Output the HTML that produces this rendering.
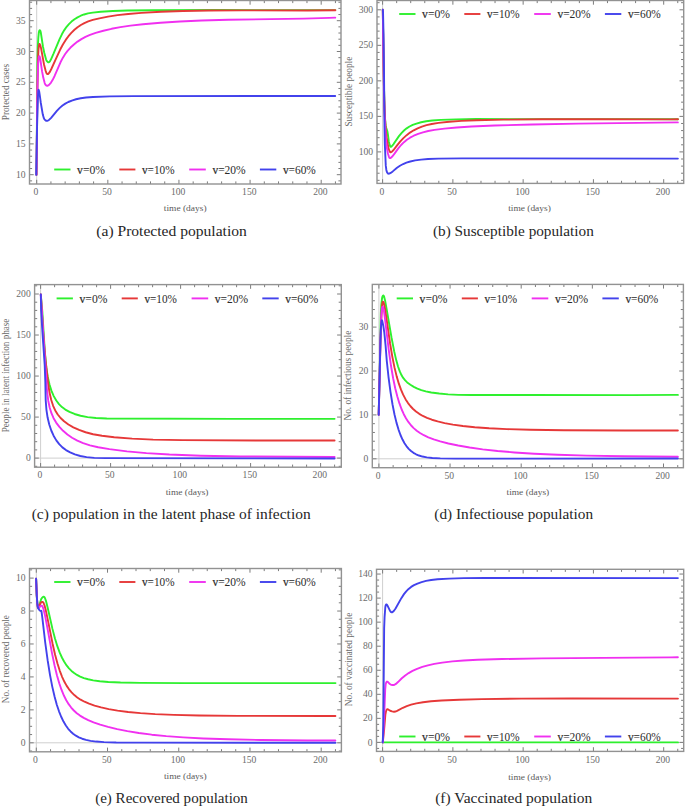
<!DOCTYPE html>
<html><head><meta charset="utf-8"><style>
html,body{margin:0;padding:0;background:#fff;}
svg{display:block;}
text{font-family:"Liberation Serif", serif;}
.tl{font-size:9.6px;fill:#6c6c6c;}
.xt{font-size:9px;fill:#5a5a5a;}
.yt{font-size:9.3px;fill:#6a6a6a;}
.lg{font-size:12px;fill:#2b2b2b;}
.cap{font-size:14.2px;fill:#262626;}
</style></head><body>
<svg width="685" height="807" viewBox="0 0 685 807">
<rect width="685" height="807" fill="#fff"/>
<line x1="36.70" y1="0.50" x2="36.70" y2="184.00" stroke="#cfcfcf" stroke-width="1"/>
<path d="M36.70 184.00V179.80M36.70 0.50V4.70M50.93 184.00V181.40M50.93 0.50V3.10M65.15 184.00V181.40M65.15 0.50V3.10M79.38 184.00V181.40M79.38 0.50V3.10M93.60 184.00V181.40M93.60 0.50V3.10M107.83 184.00V179.80M107.83 0.50V4.70M122.05 184.00V181.40M122.05 0.50V3.10M136.28 184.00V181.40M136.28 0.50V3.10M150.50 184.00V181.40M150.50 0.50V3.10M164.73 184.00V181.40M164.73 0.50V3.10M178.95 184.00V179.80M178.95 0.50V4.70M193.18 184.00V181.40M193.18 0.50V3.10M207.40 184.00V181.40M207.40 0.50V3.10M221.62 184.00V181.40M221.62 0.50V3.10M235.85 184.00V181.40M235.85 0.50V3.10M250.08 184.00V179.80M250.08 0.50V4.70M264.30 184.00V181.40M264.30 0.50V3.10M278.53 184.00V181.40M278.53 0.50V3.10M292.75 184.00V181.40M292.75 0.50V3.10M306.98 184.00V181.40M306.98 0.50V3.10M321.20 184.00V179.80M321.20 0.50V4.70M335.43 184.00V181.40M335.43 0.50V3.10M29.50 180.86H32.10M341.00 180.86H338.40M29.50 174.70H33.70M341.00 174.70H336.80M29.50 168.54H32.10M341.00 168.54H338.40M29.50 162.38H32.10M341.00 162.38H338.40M29.50 156.22H32.10M341.00 156.22H338.40M29.50 150.06H32.10M341.00 150.06H338.40M29.50 143.90H33.70M341.00 143.90H336.80M29.50 137.74H32.10M341.00 137.74H338.40M29.50 131.58H32.10M341.00 131.58H338.40M29.50 125.42H32.10M341.00 125.42H338.40M29.50 119.26H32.10M341.00 119.26H338.40M29.50 113.10H33.70M341.00 113.10H336.80M29.50 106.94H32.10M341.00 106.94H338.40M29.50 100.78H32.10M341.00 100.78H338.40M29.50 94.62H32.10M341.00 94.62H338.40M29.50 88.46H32.10M341.00 88.46H338.40M29.50 82.30H33.70M341.00 82.30H336.80M29.50 76.14H32.10M341.00 76.14H338.40M29.50 69.98H32.10M341.00 69.98H338.40M29.50 63.82H32.10M341.00 63.82H338.40M29.50 57.66H32.10M341.00 57.66H338.40M29.50 51.50H33.70M341.00 51.50H336.80M29.50 45.34H32.10M341.00 45.34H338.40M29.50 39.18H32.10M341.00 39.18H338.40M29.50 33.02H32.10M341.00 33.02H338.40M29.50 26.86H32.10M341.00 26.86H338.40M29.50 20.70H33.70M341.00 20.70H336.80M29.50 14.54H32.10M341.00 14.54H338.40M29.50 8.38H32.10M341.00 8.38H338.40M29.50 2.22H32.10M341.00 2.22H338.40" stroke="#7c7c7c" stroke-width="1" fill="none"/>
<rect x="29.50" y="0.50" width="311.50" height="183.50" fill="none" stroke="#929292" stroke-width="1.4"/>
<text x="35.90" y="195.10" text-anchor="middle" class="tl">0</text>
<text x="107.03" y="195.10" text-anchor="middle" class="tl">50</text>
<text x="178.15" y="195.10" text-anchor="middle" class="tl">100</text>
<text x="249.28" y="195.10" text-anchor="middle" class="tl">150</text>
<text x="320.40" y="195.10" text-anchor="middle" class="tl">200</text>
<text x="25.60" y="177.80" text-anchor="end" class="tl">10</text>
<text x="25.60" y="147.00" text-anchor="end" class="tl">15</text>
<text x="25.60" y="116.20" text-anchor="end" class="tl">20</text>
<text x="25.60" y="85.40" text-anchor="end" class="tl">25</text>
<text x="25.60" y="54.60" text-anchor="end" class="tl">30</text>
<text x="25.60" y="23.80" text-anchor="end" class="tl">35</text>
<text x="185.20" y="210.70" text-anchor="middle" class="xt" textLength="42.7" lengthAdjust="spacingAndGlyphs">time (days)</text>
<text transform="translate(8.50 92.00) rotate(-90)" x="0" y="0" text-anchor="middle" class="yt" textLength="56.3" lengthAdjust="spacingAndGlyphs">Protected cases</text>
<path d="M36.50 174.70L37.40 62.90L37.81 46.91L38.35 37.33L38.88 32.15L39.25 30.82L39.62 30.27L39.96 30.26L40.34 30.81L40.83 32.53L42.99 46.76L44.33 53.02L46.09 59.59L46.68 60.85L47.43 61.77L48.06 62.20L48.59 62.29L49.10 62.12L49.80 61.45L50.91 59.56L53.54 53.73L59.58 39.13L62.00 34.08L64.30 30.10L66.59 26.82L68.93 24.09L71.51 21.58L74.51 19.25L77.55 17.33L80.78 15.73L84.14 14.47L88.01 13.43L92.73 12.62L100.69 11.82L112.87 11.03L127.46 10.53L152.06 10.25L220.26 10.07L335.26 10.10" stroke="#2ef02e" stroke-width="1.9" fill="none" stroke-linejoin="round" stroke-linecap="round"/>
<path d="M36.50 174.70L37.34 90.10L37.87 63.91L38.47 49.52L38.97 45.36L39.25 44.24L39.49 43.95L39.78 44.09L40.28 45.31L41.14 48.59L43.00 58.83L44.08 64.73L45.50 70.35L46.29 72.82L46.81 73.65L47.40 74.07L47.90 74.07L48.53 73.68L49.51 72.43L51.20 69.26L55.91 58.88L60.08 49.79L62.89 44.48L65.73 39.90L68.45 36.19L71.31 32.84L74.45 29.76L77.54 27.22L80.85 24.98L84.36 23.07L88.22 21.43L92.79 19.95L99.39 18.32L108.02 16.62L117.51 15.16L128.24 13.94L141.40 12.89L160.97 11.82L182.95 11.04L208.35 10.56L241.55 10.40L307.75 10.47L335.35 10.19" stroke="#e63838" stroke-width="1.9" fill="none" stroke-linejoin="round" stroke-linecap="round"/>
<path d="M36.50 174.70L37.17 105.90L37.66 77.91L38.19 63.52L38.80 57.35L39.07 56.29L39.32 56.16L39.66 56.62L40.35 59.11L41.19 65.45L42.02 71.19L43.33 77.86L44.69 83.09L45.25 84.36L46.13 85.42L46.78 85.81L47.32 85.84L48.21 85.46L49.44 84.46L50.86 82.79L52.56 80.08L54.62 75.97L60.38 62.55L62.76 57.93L65.18 54.02L67.58 50.83L70.53 47.56L73.92 44.45L77.54 41.62L81.40 39.11L85.45 36.94L90.03 34.94L95.69 32.96L103.38 30.74L111.55 28.80L120.39 27.12L130.48 25.62L143.00 24.22L160.54 22.72L179.90 21.49L201.68 20.53L228.27 19.80L303.66 18.59L329.44 17.83L335.24 17.60" stroke="#f030f0" stroke-width="1.9" fill="none" stroke-linejoin="round" stroke-linecap="round"/>
<path d="M36.20 174.80L37.09 126.21L37.94 96.22L38.35 90.26L38.54 89.79L38.74 89.95L39.25 91.78L39.86 95.93L40.74 102.47L42.76 114.30L43.85 118.15L44.47 119.38L45.46 120.36L46.32 120.82L47.07 120.88L47.99 120.57L49.30 119.67L51.13 117.82L56.86 110.88L59.76 107.85L62.50 105.52L65.31 103.60L68.31 102.00L71.82 100.55L76.01 99.24L80.70 98.20L86.05 97.45L93.03 96.93L109.82 96.41L133.42 96.14L312.02 95.99L335.22 96.00" stroke="#4242ec" stroke-width="1.9" fill="none" stroke-linejoin="round" stroke-linecap="round"/>
<line x1="54.20" y1="169.50" x2="70.50" y2="169.50" stroke="#2ef02e" stroke-width="1.9"/>
<text x="77.10" y="173.70" class="lg" textLength="27.9" lengthAdjust="spacingAndGlyphs"><tspan stroke="#2b2b2b" stroke-width="0.22">v</tspan>=0%</text>
<line x1="119.30" y1="169.50" x2="135.40" y2="169.50" stroke="#e63838" stroke-width="1.9"/>
<text x="142.00" y="173.70" class="lg" textLength="32.5" lengthAdjust="spacingAndGlyphs"><tspan stroke="#2b2b2b" stroke-width="0.22">v</tspan>=10%</text>
<line x1="189.20" y1="169.50" x2="205.80" y2="169.50" stroke="#f030f0" stroke-width="1.9"/>
<text x="212.40" y="173.70" class="lg" textLength="33.3" lengthAdjust="spacingAndGlyphs"><tspan stroke="#2b2b2b" stroke-width="0.22">v</tspan>=20%</text>
<line x1="259.90" y1="169.50" x2="276.30" y2="169.50" stroke="#4242ec" stroke-width="1.9"/>
<text x="282.90" y="173.70" class="lg" textLength="32.9" lengthAdjust="spacingAndGlyphs"><tspan stroke="#2b2b2b" stroke-width="0.22">v</tspan>=60%</text>
<text x="96.30" y="235.70" class="cap" textLength="150.5" lengthAdjust="spacingAndGlyphs">(a) Protected population</text>
<line x1="382.60" y1="0.50" x2="382.60" y2="183.40" stroke="#cfcfcf" stroke-width="1"/>
<path d="M382.60 183.40V179.20M382.60 0.50V4.70M396.66 183.40V180.80M396.66 0.50V3.10M410.71 183.40V180.80M410.71 0.50V3.10M424.77 183.40V180.80M424.77 0.50V3.10M438.82 183.40V180.80M438.82 0.50V3.10M452.88 183.40V179.20M452.88 0.50V4.70M466.93 183.40V180.80M466.93 0.50V3.10M480.99 183.40V180.80M480.99 0.50V3.10M495.04 183.40V180.80M495.04 0.50V3.10M509.10 183.40V180.80M509.10 0.50V3.10M523.15 183.40V179.20M523.15 0.50V4.70M537.21 183.40V180.80M537.21 0.50V3.10M551.26 183.40V180.80M551.26 0.50V3.10M565.32 183.40V180.80M565.32 0.50V3.10M579.37 183.40V180.80M579.37 0.50V3.10M593.42 183.40V179.20M593.42 0.50V4.70M607.48 183.40V180.80M607.48 0.50V3.10M621.54 183.40V180.80M621.54 0.50V3.10M635.59 183.40V180.80M635.59 0.50V3.10M649.64 183.40V180.80M649.64 0.50V3.10M663.70 183.40V179.20M663.70 0.50V4.70M677.75 183.40V180.80M677.75 0.50V3.10M377.00 180.32H379.60M683.70 180.32H681.10M377.00 173.22H379.60M683.70 173.22H681.10M377.00 166.11H379.60M683.70 166.11H681.10M377.00 159.00H379.60M683.70 159.00H681.10M377.00 151.90H381.20M683.70 151.90H679.50M377.00 144.80H379.60M683.70 144.80H681.10M377.00 137.69H379.60M683.70 137.69H681.10M377.00 130.59H379.60M683.70 130.59H681.10M377.00 123.48H379.60M683.70 123.48H681.10M377.00 116.38H381.20M683.70 116.38H679.50M377.00 109.27H379.60M683.70 109.27H681.10M377.00 102.17H379.60M683.70 102.17H681.10M377.00 95.06H379.60M683.70 95.06H681.10M377.00 87.96H379.60M683.70 87.96H681.10M377.00 80.85H381.20M683.70 80.85H679.50M377.00 73.75H379.60M683.70 73.75H681.10M377.00 66.64H379.60M683.70 66.64H681.10M377.00 59.53H379.60M683.70 59.53H681.10M377.00 52.43H379.60M683.70 52.43H681.10M377.00 45.33H381.20M683.70 45.33H679.50M377.00 38.22H379.60M683.70 38.22H681.10M377.00 31.12H379.60M683.70 31.12H681.10M377.00 24.01H379.60M683.70 24.01H681.10M377.00 16.91H379.60M683.70 16.91H681.10M377.00 9.80H381.20M683.70 9.80H679.50M377.00 2.69H379.60M683.70 2.69H681.10" stroke="#7c7c7c" stroke-width="1" fill="none"/>
<rect x="377.00" y="0.50" width="306.70" height="182.90" fill="none" stroke="#929292" stroke-width="1.4"/>
<text x="381.80" y="194.50" text-anchor="middle" class="tl">0</text>
<text x="452.07" y="194.50" text-anchor="middle" class="tl">50</text>
<text x="522.35" y="194.50" text-anchor="middle" class="tl">100</text>
<text x="592.62" y="194.50" text-anchor="middle" class="tl">150</text>
<text x="662.90" y="194.50" text-anchor="middle" class="tl">200</text>
<text x="373.10" y="155.00" text-anchor="end" class="tl">100</text>
<text x="373.10" y="119.47" text-anchor="end" class="tl">150</text>
<text x="373.10" y="83.95" text-anchor="end" class="tl">200</text>
<text x="373.10" y="48.43" text-anchor="end" class="tl">250</text>
<text x="373.10" y="12.90" text-anchor="end" class="tl">300</text>
<text x="529.50" y="210.90" text-anchor="middle" class="xt" textLength="42.7" lengthAdjust="spacingAndGlyphs">time (days)</text>
<text transform="translate(351.60 91.65) rotate(-90)" x="0" y="0" text-anchor="middle" class="yt" textLength="69.9" lengthAdjust="spacingAndGlyphs">Susceptible people</text>
<path d="M382.80 9.70L383.84 82.09L384.52 108.08L385.24 121.46L385.68 125.44L386.29 127.96L387.31 130.99L387.86 134.14L388.84 141.68L389.62 144.98L390.18 146.25L390.65 146.77L391.08 146.81L391.80 146.25L393.57 144.09L398.95 136.15L401.48 133.05L404.02 130.50L406.65 128.35L409.51 126.52L412.74 124.93L416.49 123.54L421.11 122.24L426.21 121.23L432.16 120.48L440.74 119.89L456.13 119.33L476.13 119.07L639.33 119.17L677.93 119.20" stroke="#2ef02e" stroke-width="1.9" fill="none" stroke-linejoin="round" stroke-linecap="round"/>
<path d="M382.80 9.70L383.64 71.69L384.29 100.89L384.90 116.87L385.70 128.85L386.63 137.40L387.91 145.29L388.75 149.20L389.55 151.25L390.05 152.07L390.47 152.36L390.95 152.32L391.91 151.67L393.59 149.97L396.89 145.70L400.13 141.63L403.40 138.12L406.66 135.16L410.00 132.61L413.72 130.28L417.64 128.28L421.91 126.56L426.49 125.15L431.76 123.96L438.48 122.92L449.21 121.76L461.38 120.88L476.37 120.23L503.36 119.67L542.16 119.30L599.56 119.27L670.36 119.33L677.96 119.30" stroke="#e63838" stroke-width="1.9" fill="none" stroke-linejoin="round" stroke-linecap="round"/>
<path d="M382.80 9.70L383.90 90.09L384.62 116.28L385.34 131.06L386.17 142.03L387.01 148.58L387.94 153.49L388.86 156.55L389.43 157.80L389.80 158.13L390.27 158.15L391.09 157.67L392.53 156.29L394.70 153.42L398.28 148.36L401.11 144.99L403.95 142.18L406.89 139.78L410.06 137.68L413.77 135.72L418.19 133.86L422.94 132.30L428.18 130.99L434.48 129.86L444.40 128.60L456.74 127.44L471.51 126.50L494.69 125.55L532.08 124.48L578.07 123.61L677.86 122.40" stroke="#f030f0" stroke-width="1.9" fill="none" stroke-linejoin="round" stroke-linecap="round"/>
<path d="M382.80 9.70L383.04 12.68L383.52 33.87L384.01 72.27L384.49 127.07L384.82 143.86L385.78 165.64L386.36 170.00L386.82 171.74L387.48 172.96L388.01 173.52L388.51 173.74L389.24 173.66L390.66 172.96L392.74 171.40L397.00 167.78L399.97 165.74L403.13 164.02L406.45 162.64L410.28 161.48L415.17 160.43L421.10 159.58L428.08 159.00L438.47 158.63L462.07 158.36L677.87 158.60" stroke="#4242ec" stroke-width="1.9" fill="none" stroke-linejoin="round" stroke-linecap="round"/>
<line x1="399.20" y1="14.00" x2="415.50" y2="14.00" stroke="#2ef02e" stroke-width="1.9"/>
<text x="422.10" y="18.20" class="lg" textLength="27.9" lengthAdjust="spacingAndGlyphs"><tspan stroke="#2b2b2b" stroke-width="0.22">v</tspan>=0%</text>
<line x1="464.30" y1="14.00" x2="480.40" y2="14.00" stroke="#e63838" stroke-width="1.9"/>
<text x="487.00" y="18.20" class="lg" textLength="32.5" lengthAdjust="spacingAndGlyphs"><tspan stroke="#2b2b2b" stroke-width="0.22">v</tspan>=10%</text>
<line x1="534.20" y1="14.00" x2="550.80" y2="14.00" stroke="#f030f0" stroke-width="1.9"/>
<text x="557.40" y="18.20" class="lg" textLength="33.3" lengthAdjust="spacingAndGlyphs"><tspan stroke="#2b2b2b" stroke-width="0.22">v</tspan>=20%</text>
<line x1="604.90" y1="14.00" x2="621.30" y2="14.00" stroke="#4242ec" stroke-width="1.9"/>
<text x="627.90" y="18.20" class="lg" textLength="32.9" lengthAdjust="spacingAndGlyphs"><tspan stroke="#2b2b2b" stroke-width="0.22">v</tspan>=60%</text>
<text x="433.00" y="235.70" class="cap" textLength="160.8" lengthAdjust="spacingAndGlyphs">(b) Susceptible population</text>
<line x1="40.60" y1="284.60" x2="40.60" y2="467.20" stroke="#cfcfcf" stroke-width="1"/>
<line x1="34.60" y1="458.10" x2="341.30" y2="458.10" stroke="#cfcfcf" stroke-width="1"/>
<path d="M40.60 467.20V463.00M40.60 284.60V288.80M54.60 467.20V464.60M54.60 284.60V287.20M68.60 467.20V464.60M68.60 284.60V287.20M82.60 467.20V464.60M82.60 284.60V287.20M96.60 467.20V464.60M96.60 284.60V287.20M110.60 467.20V463.00M110.60 284.60V288.80M124.60 467.20V464.60M124.60 284.60V287.20M138.60 467.20V464.60M138.60 284.60V287.20M152.60 467.20V464.60M152.60 284.60V287.20M166.60 467.20V464.60M166.60 284.60V287.20M180.60 467.20V463.00M180.60 284.60V288.80M194.60 467.20V464.60M194.60 284.60V287.20M208.60 467.20V464.60M208.60 284.60V287.20M222.60 467.20V464.60M222.60 284.60V287.20M236.60 467.20V464.60M236.60 284.60V287.20M250.60 467.20V463.00M250.60 284.60V288.80M264.60 467.20V464.60M264.60 284.60V287.20M278.60 467.20V464.60M278.60 284.60V287.20M292.60 467.20V464.60M292.60 284.60V287.20M306.60 467.20V464.60M306.60 284.60V287.20M320.60 467.20V463.00M320.60 284.60V288.80M334.60 467.20V464.60M334.60 284.60V287.20M34.60 466.31H37.20M341.30 466.31H338.70M34.60 458.10H38.80M341.30 458.10H337.10M34.60 449.90H37.20M341.30 449.90H338.70M34.60 441.69H37.20M341.30 441.69H338.70M34.60 433.49H37.20M341.30 433.49H338.70M34.60 425.28H37.20M341.30 425.28H338.70M34.60 417.08H38.80M341.30 417.08H337.10M34.60 408.87H37.20M341.30 408.87H338.70M34.60 400.67H37.20M341.30 400.67H338.70M34.60 392.46H37.20M341.30 392.46H338.70M34.60 384.25H37.20M341.30 384.25H338.70M34.60 376.05H38.80M341.30 376.05H337.10M34.60 367.85H37.20M341.30 367.85H338.70M34.60 359.64H37.20M341.30 359.64H338.70M34.60 351.44H37.20M341.30 351.44H338.70M34.60 343.23H37.20M341.30 343.23H338.70M34.60 335.03H38.80M341.30 335.03H337.10M34.60 326.82H37.20M341.30 326.82H338.70M34.60 318.62H37.20M341.30 318.62H338.70M34.60 310.41H37.20M341.30 310.41H338.70M34.60 302.21H37.20M341.30 302.21H338.70M34.60 294.00H38.80M341.30 294.00H337.10M34.60 285.80H37.20M341.30 285.80H338.70" stroke="#7c7c7c" stroke-width="1" fill="none"/>
<rect x="34.60" y="284.60" width="306.70" height="182.60" fill="none" stroke="#929292" stroke-width="1.4"/>
<text x="39.80" y="478.30" text-anchor="middle" class="tl">0</text>
<text x="109.80" y="478.30" text-anchor="middle" class="tl">50</text>
<text x="179.80" y="478.30" text-anchor="middle" class="tl">100</text>
<text x="249.80" y="478.30" text-anchor="middle" class="tl">150</text>
<text x="319.80" y="478.30" text-anchor="middle" class="tl">200</text>
<text x="30.70" y="461.20" text-anchor="end" class="tl">0</text>
<text x="30.70" y="420.18" text-anchor="end" class="tl">50</text>
<text x="30.70" y="379.15" text-anchor="end" class="tl">100</text>
<text x="30.70" y="338.13" text-anchor="end" class="tl">150</text>
<text x="30.70" y="297.10" text-anchor="end" class="tl">200</text>
<text x="187.10" y="494.70" text-anchor="middle" class="xt" textLength="42.7" lengthAdjust="spacingAndGlyphs">time (days)</text>
<text transform="translate(9.40 375.50) rotate(-90)" x="0" y="0" text-anchor="middle" class="yt" textLength="113.4" lengthAdjust="spacingAndGlyphs">People in latent infection phase</text>
<path d="M40.79 294.50L42.29 311.23L44.84 351.95L46.31 367.18L47.79 376.97L49.50 384.58L51.49 390.87L53.74 396.10L56.28 400.52L58.99 404.11L61.95 407.08L65.31 409.60L69.50 411.93L74.50 413.97L80.54 415.73L87.61 417.10L95.96 418.02L106.75 418.46L233.05 418.83L334.58 418.84" stroke="#2ef02e" stroke-width="1.9" fill="none" stroke-linejoin="round" stroke-linecap="round"/>
<path d="M40.80 294.50L43.41 335.82L45.53 360.63L48.06 382.98L49.62 393.06L51.25 400.07L53.13 405.77L55.23 410.41L57.74 414.50L60.59 417.98L64.07 421.27L68.41 424.48L73.34 427.35L79.06 429.97L85.57 432.26L93.12 434.21L101.98 435.80L114.19 437.25L132.13 438.66L153.11 439.61L182.21 440.14L257.21 440.44L334.58 440.47" stroke="#e63838" stroke-width="1.9" fill="none" stroke-linejoin="round" stroke-linecap="round"/>
<path d="M40.79 294.50L43.44 337.02L47.16 392.09L48.25 400.72L49.66 407.47L51.43 413.20L53.58 418.15L56.15 422.56L59.39 426.88L63.08 430.81L67.40 434.53L72.08 437.77L77.34 440.65L83.14 443.11L89.99 445.31L98.17 447.24L109.41 449.13L126.97 451.34L146.39 453.11L169.44 454.52L200.92 455.68L240.81 456.44L334.57 456.98" stroke="#f030f0" stroke-width="1.9" fill="none" stroke-linejoin="round" stroke-linecap="round"/>
<path d="M40.81 294.50L41.14 310.09L42.36 331.06L44.70 364.88L45.32 381.66L45.70 400.26L46.44 409.83L47.60 417.54L49.26 424.54L51.26 430.51L53.59 435.72L56.31 440.37L59.22 444.19L62.40 447.37L65.99 450.08L70.16 452.44L74.86 454.41L80.33 456.01L86.53 457.15L94.29 457.87L105.99 458.14L242.49 458.40L334.56 458.43" stroke="#4242ec" stroke-width="1.9" fill="none" stroke-linejoin="round" stroke-linecap="round"/>
<line x1="56.60" y1="298.40" x2="72.90" y2="298.40" stroke="#2ef02e" stroke-width="1.9"/>
<text x="79.50" y="302.60" class="lg" textLength="27.9" lengthAdjust="spacingAndGlyphs"><tspan stroke="#2b2b2b" stroke-width="0.22">v</tspan>=0%</text>
<line x1="121.70" y1="298.40" x2="137.80" y2="298.40" stroke="#e63838" stroke-width="1.9"/>
<text x="144.40" y="302.60" class="lg" textLength="32.5" lengthAdjust="spacingAndGlyphs"><tspan stroke="#2b2b2b" stroke-width="0.22">v</tspan>=10%</text>
<line x1="191.60" y1="298.40" x2="208.20" y2="298.40" stroke="#f030f0" stroke-width="1.9"/>
<text x="214.80" y="302.60" class="lg" textLength="33.3" lengthAdjust="spacingAndGlyphs"><tspan stroke="#2b2b2b" stroke-width="0.22">v</tspan>=20%</text>
<line x1="262.30" y1="298.40" x2="278.70" y2="298.40" stroke="#4242ec" stroke-width="1.9"/>
<text x="285.30" y="302.60" class="lg" textLength="32.9" lengthAdjust="spacingAndGlyphs"><tspan stroke="#2b2b2b" stroke-width="0.22">v</tspan>=60%</text>
<text x="31.70" y="519.30" class="cap" textLength="279.0" lengthAdjust="spacingAndGlyphs">(c) population in the latent phase of infection</text>
<line x1="378.90" y1="284.40" x2="378.90" y2="467.70" stroke="#cfcfcf" stroke-width="1"/>
<line x1="372.30" y1="458.80" x2="683.40" y2="458.80" stroke="#cfcfcf" stroke-width="1"/>
<path d="M378.90 467.70V463.50M378.90 284.40V288.60M393.13 467.70V465.10M393.13 284.40V287.00M407.36 467.70V465.10M407.36 284.40V287.00M421.59 467.70V465.10M421.59 284.40V287.00M435.82 467.70V465.10M435.82 284.40V287.00M450.05 467.70V463.50M450.05 284.40V288.60M464.28 467.70V465.10M464.28 284.40V287.00M478.51 467.70V465.10M478.51 284.40V287.00M492.74 467.70V465.10M492.74 284.40V287.00M506.97 467.70V465.10M506.97 284.40V287.00M521.20 467.70V463.50M521.20 284.40V288.60M535.43 467.70V465.10M535.43 284.40V287.00M549.66 467.70V465.10M549.66 284.40V287.00M563.89 467.70V465.10M563.89 284.40V287.00M578.12 467.70V465.10M578.12 284.40V287.00M592.35 467.70V463.50M592.35 284.40V288.60M606.58 467.70V465.10M606.58 284.40V287.00M620.81 467.70V465.10M620.81 284.40V287.00M635.04 467.70V465.10M635.04 284.40V287.00M649.27 467.70V465.10M649.27 284.40V287.00M663.50 467.70V463.50M663.50 284.40V288.60M677.73 467.70V465.10M677.73 284.40V287.00M372.30 458.80H376.50M683.40 458.80H679.20M372.30 450.02H374.90M683.40 450.02H680.80M372.30 441.24H374.90M683.40 441.24H680.80M372.30 432.46H374.90M683.40 432.46H680.80M372.30 423.68H374.90M683.40 423.68H680.80M372.30 414.90H376.50M683.40 414.90H679.20M372.30 406.12H374.90M683.40 406.12H680.80M372.30 397.34H374.90M683.40 397.34H680.80M372.30 388.56H374.90M683.40 388.56H680.80M372.30 379.78H374.90M683.40 379.78H680.80M372.30 371.00H376.50M683.40 371.00H679.20M372.30 362.22H374.90M683.40 362.22H680.80M372.30 353.44H374.90M683.40 353.44H680.80M372.30 344.66H374.90M683.40 344.66H680.80M372.30 335.88H374.90M683.40 335.88H680.80M372.30 327.10H376.50M683.40 327.10H679.20M372.30 318.32H374.90M683.40 318.32H680.80M372.30 309.54H374.90M683.40 309.54H680.80M372.30 300.76H374.90M683.40 300.76H680.80M372.30 291.98H374.90M683.40 291.98H680.80" stroke="#7c7c7c" stroke-width="1" fill="none"/>
<rect x="372.30" y="284.40" width="311.10" height="183.30" fill="none" stroke="#929292" stroke-width="1.4"/>
<text x="378.10" y="478.80" text-anchor="middle" class="tl">0</text>
<text x="449.25" y="478.80" text-anchor="middle" class="tl">50</text>
<text x="520.40" y="478.80" text-anchor="middle" class="tl">100</text>
<text x="591.55" y="478.80" text-anchor="middle" class="tl">150</text>
<text x="662.70" y="478.80" text-anchor="middle" class="tl">200</text>
<text x="368.40" y="461.90" text-anchor="end" class="tl">0</text>
<text x="368.40" y="418.00" text-anchor="end" class="tl">10</text>
<text x="368.40" y="374.10" text-anchor="end" class="tl">20</text>
<text x="368.40" y="330.20" text-anchor="end" class="tl">30</text>
<text x="527.90" y="494.70" text-anchor="middle" class="xt" textLength="42.7" lengthAdjust="spacingAndGlyphs">time (days)</text>
<text transform="translate(350.70 375.65) rotate(-90)" x="0" y="0" text-anchor="middle" class="yt" textLength="89.9" lengthAdjust="spacingAndGlyphs">No. of infectious people</text>
<path d="M378.70 414.80L380.39 339.42L380.82 313.42L381.31 304.84L382.03 298.28L382.42 296.73L382.94 295.69L383.30 295.41L383.63 295.53L384.07 296.53L385.06 300.40L386.77 309.85L391.50 337.44L394.21 351.38L396.28 360.35L398.03 366.50L399.79 371.39L401.46 375.03L403.19 377.95L405.19 380.44L407.19 382.40L410.40 384.78L413.82 386.86L417.41 388.62L421.33 390.12L425.76 391.37L431.25 392.46L439.17 393.55L448.13 394.36L458.32 394.86L471.72 395.05L530.52 394.95L631.72 395.16L676.12 394.91L677.92 394.89" stroke="#2ef02e" stroke-width="1.9" fill="none" stroke-linejoin="round" stroke-linecap="round"/>
<path d="M378.70 414.80L380.47 341.02L381.40 317.04L382.09 305.26L382.54 302.50L382.79 301.82L383.07 301.63L383.37 301.88L383.87 303.13L384.76 307.23L386.49 318.50L390.05 343.24L392.35 356.85L394.53 367.63L396.67 376.37L398.83 383.66L400.99 389.68L403.14 394.63L405.66 399.41L408.04 403.10L410.51 406.25L413.11 409.01L415.97 411.51L419.23 413.84L422.86 415.95L427.02 417.90L431.89 419.73L437.64 421.44L444.64 423.09L452.90 424.61L462.81 425.99L474.74 427.22L489.11 428.27L506.88 429.12L530.27 429.78L563.87 430.25L624.47 430.51L677.87 430.56" stroke="#e63838" stroke-width="1.9" fill="none" stroke-linejoin="round" stroke-linecap="round"/>
<path d="M378.70 414.80L380.49 340.42L381.33 315.64L381.88 309.06L382.22 307.13L382.48 306.77L382.83 306.80L383.18 307.37L383.85 310.48L385.13 319.79L388.84 350.57L391.04 366.02L393.14 378.24L395.22 388.22L397.33 396.56L399.43 403.44L401.58 409.26L403.79 414.18L405.96 418.24L408.35 421.93L410.94 425.23L413.70 428.12L416.74 430.73L420.01 433.03L423.82 435.22L428.34 437.34L433.76 439.41L440.26 441.43L448.40 443.50L458.18 445.55L469.62 447.51L482.69 449.33L497.60 450.98L514.53 452.43L534.29 453.70L557.67 454.76L586.46 455.63L624.05 456.30L677.85 456.77" stroke="#f030f0" stroke-width="1.9" fill="none" stroke-linejoin="round" stroke-linecap="round"/>
<path d="M378.70 414.80L380.43 340.62L380.91 327.83L381.48 321.26L381.69 320.40L381.91 320.29L382.20 320.78L383.31 325.84L384.34 332.96L385.57 345.30L386.78 360.85L388.49 376.76L390.48 391.83L392.48 404.27L394.50 414.47L396.47 422.64L398.44 429.35L400.48 434.99L402.51 439.56L404.52 443.25L406.42 446.07L408.71 448.84L411.03 451.04L413.44 452.82L416.05 454.29L419.00 455.53L422.45 456.55L426.77 457.39L432.33 458.01L440.32 458.41L455.72 458.59L677.92 458.57" stroke="#4242ec" stroke-width="1.9" fill="none" stroke-linejoin="round" stroke-linecap="round"/>
<line x1="396.70" y1="298.40" x2="413.00" y2="298.40" stroke="#2ef02e" stroke-width="1.9"/>
<text x="419.60" y="302.60" class="lg" textLength="27.9" lengthAdjust="spacingAndGlyphs"><tspan stroke="#2b2b2b" stroke-width="0.22">v</tspan>=0%</text>
<line x1="461.80" y1="298.40" x2="477.90" y2="298.40" stroke="#e63838" stroke-width="1.9"/>
<text x="484.50" y="302.60" class="lg" textLength="32.5" lengthAdjust="spacingAndGlyphs"><tspan stroke="#2b2b2b" stroke-width="0.22">v</tspan>=10%</text>
<line x1="531.70" y1="298.40" x2="548.30" y2="298.40" stroke="#f030f0" stroke-width="1.9"/>
<text x="554.90" y="302.60" class="lg" textLength="33.3" lengthAdjust="spacingAndGlyphs"><tspan stroke="#2b2b2b" stroke-width="0.22">v</tspan>=20%</text>
<line x1="602.40" y1="298.40" x2="618.80" y2="298.40" stroke="#4242ec" stroke-width="1.9"/>
<text x="625.40" y="302.60" class="lg" textLength="32.9" lengthAdjust="spacingAndGlyphs"><tspan stroke="#2b2b2b" stroke-width="0.22">v</tspan>=60%</text>
<text x="434.30" y="519.30" class="cap" textLength="158.8" lengthAdjust="spacingAndGlyphs">(d) Infectiouse population</text>
<line x1="36.30" y1="568.50" x2="36.30" y2="751.80" stroke="#cfcfcf" stroke-width="1"/>
<line x1="29.50" y1="742.80" x2="341.40" y2="742.80" stroke="#cfcfcf" stroke-width="1"/>
<path d="M36.30 751.80V747.60M36.30 568.50V572.70M50.55 751.80V749.20M50.55 568.50V571.10M64.79 751.80V749.20M64.79 568.50V571.10M79.03 751.80V749.20M79.03 568.50V571.10M93.28 751.80V749.20M93.28 568.50V571.10M107.53 751.80V747.60M107.53 568.50V572.70M121.77 751.80V749.20M121.77 568.50V571.10M136.01 751.80V749.20M136.01 568.50V571.10M150.26 751.80V749.20M150.26 568.50V571.10M164.50 751.80V749.20M164.50 568.50V571.10M178.75 751.80V747.60M178.75 568.50V572.70M193.00 751.80V749.20M193.00 568.50V571.10M207.24 751.80V749.20M207.24 568.50V571.10M221.49 751.80V749.20M221.49 568.50V571.10M235.73 751.80V749.20M235.73 568.50V571.10M249.98 751.80V747.60M249.98 568.50V572.70M264.22 751.80V749.20M264.22 568.50V571.10M278.47 751.80V749.20M278.47 568.50V571.10M292.71 751.80V749.20M292.71 568.50V571.10M306.96 751.80V749.20M306.96 568.50V571.10M321.20 751.80V747.60M321.20 568.50V572.70M335.45 751.80V749.20M335.45 568.50V571.10M29.50 751.03H32.10M341.40 751.03H338.80M29.50 742.80H33.70M341.40 742.80H337.20M29.50 734.56H32.10M341.40 734.56H338.80M29.50 726.33H32.10M341.40 726.33H338.80M29.50 718.09H32.10M341.40 718.09H338.80M29.50 709.86H33.70M341.40 709.86H337.20M29.50 701.62H32.10M341.40 701.62H338.80M29.50 693.39H32.10M341.40 693.39H338.80M29.50 685.15H32.10M341.40 685.15H338.80M29.50 676.92H33.70M341.40 676.92H337.20M29.50 668.68H32.10M341.40 668.68H338.80M29.50 660.45H32.10M341.40 660.45H338.80M29.50 652.21H32.10M341.40 652.21H338.80M29.50 643.98H33.70M341.40 643.98H337.20M29.50 635.75H32.10M341.40 635.75H338.80M29.50 627.51H32.10M341.40 627.51H338.80M29.50 619.27H32.10M341.40 619.27H338.80M29.50 611.04H33.70M341.40 611.04H337.20M29.50 602.80H32.10M341.40 602.80H338.80M29.50 594.57H32.10M341.40 594.57H338.80M29.50 586.34H32.10M341.40 586.34H338.80M29.50 578.10H33.70M341.40 578.10H337.20M29.50 569.87H32.10M341.40 569.87H338.80" stroke="#7c7c7c" stroke-width="1" fill="none"/>
<rect x="29.50" y="568.50" width="311.90" height="183.30" fill="none" stroke="#929292" stroke-width="1.4"/>
<text x="35.50" y="762.90" text-anchor="middle" class="tl">0</text>
<text x="106.73" y="762.90" text-anchor="middle" class="tl">50</text>
<text x="177.95" y="762.90" text-anchor="middle" class="tl">100</text>
<text x="249.18" y="762.90" text-anchor="middle" class="tl">150</text>
<text x="320.40" y="762.90" text-anchor="middle" class="tl">200</text>
<text x="25.60" y="745.90" text-anchor="end" class="tl">0</text>
<text x="25.60" y="712.96" text-anchor="end" class="tl">2</text>
<text x="25.60" y="680.02" text-anchor="end" class="tl">4</text>
<text x="25.60" y="647.08" text-anchor="end" class="tl">6</text>
<text x="25.60" y="614.14" text-anchor="end" class="tl">8</text>
<text x="25.60" y="581.20" text-anchor="end" class="tl">10</text>
<text x="185.30" y="778.60" text-anchor="middle" class="xt" textLength="42.7" lengthAdjust="spacingAndGlyphs">time (days)</text>
<text transform="translate(8.60 659.15) rotate(-90)" x="0" y="0" text-anchor="middle" class="yt" textLength="88.1" lengthAdjust="spacingAndGlyphs">No. of recovered people</text>
<path d="M36.10 578.70L36.77 595.49L37.39 604.46L37.86 607.42L38.15 608.05L38.52 608.19L38.88 607.94L39.22 607.06L40.12 602.56L41.12 599.31L41.81 598.10L42.74 597.07L43.39 596.71L43.90 596.71L44.34 597.01L44.95 598.01L45.95 600.83L47.63 607.42L52.46 628.88L54.98 638.56L57.34 646.20L59.62 652.40L61.90 657.51L64.07 661.56L66.59 665.41L68.97 668.37L71.50 670.93L74.13 673.08L76.97 674.94L80.17 676.58L83.90 678.04L88.12 679.27L93.21 680.32L99.75 681.23L108.31 681.96L120.50 682.51L140.30 682.89L184.90 683.08L335.50 683.10" stroke="#2ef02e" stroke-width="1.9" fill="none" stroke-linejoin="round" stroke-linecap="round"/>
<path d="M36.10 578.70L36.77 595.49L37.39 604.46L37.91 607.59L38.12 608.00L38.31 608.06L38.60 607.78L40.43 603.40L41.00 602.59L41.79 602.02L42.49 601.86L42.96 602.05L43.53 602.81L44.41 605.03L45.71 609.86L47.98 620.62L52.48 643.18L55.10 654.68L57.48 663.57L59.79 670.81L62.08 676.78L64.54 682.03L66.70 685.87L69.06 689.34L71.61 692.42L74.31 695.09L77.27 697.47L80.61 699.67L84.49 701.74L89.08 703.71L94.56 705.60L101.12 707.41L108.73 709.08L117.60 710.61L128.11 711.98L140.46 713.16L155.23 714.13L173.81 714.90L199.00 715.48L237.60 715.86L323.40 716.05L335.40 716.05" stroke="#e63838" stroke-width="1.9" fill="none" stroke-linejoin="round" stroke-linecap="round"/>
<path d="M36.10 578.70L36.77 595.49L37.39 604.46L37.86 607.42L38.14 608.02L38.48 608.08L39.12 607.48L40.49 606.03L41.13 605.64L41.64 605.63L42.09 605.91L42.70 606.90L43.62 609.54L44.98 615.18L47.35 627.56L51.85 652.35L54.52 665.28L56.93 675.19L59.26 683.26L61.47 689.69L64.00 695.78L66.26 700.24L68.66 704.16L71.16 707.53L73.84 710.50L76.80 713.19L80.00 715.58L83.75 717.89L88.21 720.14L93.56 722.38L100.18 724.67L108.05 726.94L117.19 729.14L127.39 731.17L138.84 733.02L151.73 734.68L166.26 736.13L183.22 737.39L203.39 738.45L228.17 739.31L260.57 739.97L307.16 740.43L335.36 740.57" stroke="#f030f0" stroke-width="1.9" fill="none" stroke-linejoin="round" stroke-linecap="round"/>
<path d="M36.10 578.70L36.77 595.49L37.39 604.46L37.90 607.42L38.40 608.71L39.49 610.13L40.30 610.94L40.72 611.04L41.25 610.84L41.44 611.11L42.24 616.99L45.28 643.01L47.70 660.65L50.04 675.06L52.31 686.84L54.56 696.58L56.80 704.68L59.01 711.32L61.08 716.52L63.51 721.56L65.85 725.52L68.19 728.76L70.59 731.44L73.11 733.72L75.88 735.69L78.85 737.34L82.17 738.72L86.00 739.88L90.50 740.82L96.25 741.57L104.03 742.13L116.22 742.50L144.82 742.67L335.42 742.68" stroke="#4242ec" stroke-width="1.9" fill="none" stroke-linejoin="round" stroke-linecap="round"/>
<line x1="54.20" y1="582.00" x2="70.50" y2="582.00" stroke="#2ef02e" stroke-width="1.9"/>
<text x="77.10" y="586.20" class="lg" textLength="27.9" lengthAdjust="spacingAndGlyphs"><tspan stroke="#2b2b2b" stroke-width="0.22">v</tspan>=0%</text>
<line x1="119.30" y1="582.00" x2="135.40" y2="582.00" stroke="#e63838" stroke-width="1.9"/>
<text x="142.00" y="586.20" class="lg" textLength="32.5" lengthAdjust="spacingAndGlyphs"><tspan stroke="#2b2b2b" stroke-width="0.22">v</tspan>=10%</text>
<line x1="189.20" y1="582.00" x2="205.80" y2="582.00" stroke="#f030f0" stroke-width="1.9"/>
<text x="212.40" y="586.20" class="lg" textLength="33.3" lengthAdjust="spacingAndGlyphs"><tspan stroke="#2b2b2b" stroke-width="0.22">v</tspan>=20%</text>
<line x1="259.90" y1="582.00" x2="276.30" y2="582.00" stroke="#4242ec" stroke-width="1.9"/>
<text x="282.90" y="586.20" class="lg" textLength="32.9" lengthAdjust="spacingAndGlyphs"><tspan stroke="#2b2b2b" stroke-width="0.22">v</tspan>=60%</text>
<text x="95.20" y="803.00" class="cap" textLength="152.7" lengthAdjust="spacingAndGlyphs">(e) Recovered population</text>
<line x1="382.60" y1="569.30" x2="382.60" y2="751.40" stroke="#cfcfcf" stroke-width="1"/>
<line x1="376.50" y1="742.40" x2="683.70" y2="742.40" stroke="#cfcfcf" stroke-width="1"/>
<path d="M382.60 751.40V747.20M382.60 569.30V573.50M396.66 751.40V748.80M396.66 569.30V571.90M410.71 751.40V748.80M410.71 569.30V571.90M424.77 751.40V748.80M424.77 569.30V571.90M438.82 751.40V748.80M438.82 569.30V571.90M452.88 751.40V747.20M452.88 569.30V573.50M466.93 751.40V748.80M466.93 569.30V571.90M480.99 751.40V748.80M480.99 569.30V571.90M495.04 751.40V748.80M495.04 569.30V571.90M509.10 751.40V748.80M509.10 569.30V571.90M523.15 751.40V747.20M523.15 569.30V573.50M537.21 751.40V748.80M537.21 569.30V571.90M551.26 751.40V748.80M551.26 569.30V571.90M565.32 751.40V748.80M565.32 569.30V571.90M579.37 751.40V748.80M579.37 569.30V571.90M593.42 751.40V747.20M593.42 569.30V573.50M607.48 751.40V748.80M607.48 569.30V571.90M621.54 751.40V748.80M621.54 569.30V571.90M635.59 751.40V748.80M635.59 569.30V571.90M649.64 751.40V748.80M649.64 569.30V571.90M663.70 751.40V747.20M663.70 569.30V573.50M677.75 751.40V748.80M677.75 569.30V571.90M376.50 748.41H379.10M683.70 748.41H681.10M376.50 742.40H380.70M683.70 742.40H679.50M376.50 736.39H379.10M683.70 736.39H681.10M376.50 730.38H379.10M683.70 730.38H681.10M376.50 724.36H379.10M683.70 724.36H681.10M376.50 718.35H380.70M683.70 718.35H679.50M376.50 712.34H379.10M683.70 712.34H681.10M376.50 706.32H379.10M683.70 706.32H681.10M376.50 700.31H379.10M683.70 700.31H681.10M376.50 694.30H380.70M683.70 694.30H679.50M376.50 688.29H379.10M683.70 688.29H681.10M376.50 682.27H379.10M683.70 682.27H681.10M376.50 676.26H379.10M683.70 676.26H681.10M376.50 670.25H380.70M683.70 670.25H679.50M376.50 664.24H379.10M683.70 664.24H681.10M376.50 658.23H379.10M683.70 658.23H681.10M376.50 652.21H379.10M683.70 652.21H681.10M376.50 646.20H380.70M683.70 646.20H679.50M376.50 640.19H379.10M683.70 640.19H681.10M376.50 634.17H379.10M683.70 634.17H681.10M376.50 628.16H379.10M683.70 628.16H681.10M376.50 622.15H380.70M683.70 622.15H679.50M376.50 616.14H379.10M683.70 616.14H681.10M376.50 610.12H379.10M683.70 610.12H681.10M376.50 604.11H379.10M683.70 604.11H681.10M376.50 598.10H380.70M683.70 598.10H679.50M376.50 592.09H379.10M683.70 592.09H681.10M376.50 586.08H379.10M683.70 586.08H681.10M376.50 580.06H379.10M683.70 580.06H681.10M376.50 574.05H380.70M683.70 574.05H679.50" stroke="#7c7c7c" stroke-width="1" fill="none"/>
<rect x="376.50" y="569.30" width="307.20" height="182.10" fill="none" stroke="#929292" stroke-width="1.4"/>
<text x="381.80" y="762.50" text-anchor="middle" class="tl">0</text>
<text x="452.07" y="762.50" text-anchor="middle" class="tl">50</text>
<text x="522.35" y="762.50" text-anchor="middle" class="tl">100</text>
<text x="592.62" y="762.50" text-anchor="middle" class="tl">150</text>
<text x="662.90" y="762.50" text-anchor="middle" class="tl">200</text>
<text x="372.60" y="745.50" text-anchor="end" class="tl">0</text>
<text x="372.60" y="721.45" text-anchor="end" class="tl">20</text>
<text x="372.60" y="697.40" text-anchor="end" class="tl">40</text>
<text x="372.60" y="673.35" text-anchor="end" class="tl">60</text>
<text x="372.60" y="649.30" text-anchor="end" class="tl">80</text>
<text x="372.60" y="625.25" text-anchor="end" class="tl">100</text>
<text x="372.60" y="601.20" text-anchor="end" class="tl">120</text>
<text x="372.60" y="577.15" text-anchor="end" class="tl">140</text>
<text x="529.60" y="779.60" text-anchor="middle" class="xt" textLength="42.7" lengthAdjust="spacingAndGlyphs">time (days)</text>
<text transform="translate(351.70 659.45) rotate(-90)" x="0" y="0" text-anchor="middle" class="yt" textLength="93.5" lengthAdjust="spacingAndGlyphs">No. of vaccinated people</text>
<path d="M382.6 742.4 L678.0 742.4" stroke="#2ef02e" stroke-width="1.9" fill="none" stroke-linejoin="round" stroke-linecap="round"/>
<path d="M382.80 742.40L384.06 730.06L385.34 714.92L385.90 711.77L386.40 710.26L386.91 709.45L387.34 709.21L387.84 709.29L390.18 710.75L392.08 711.36L394.04 711.71L395.42 711.56L397.10 710.93L402.89 707.78L406.75 706.11L411.11 704.67L416.36 703.41L423.06 702.24L431.00 701.30L441.57 700.51L459.35 699.68L481.75 699.08L521.34 698.60L572.74 698.43L677.94 698.60" stroke="#e63838" stroke-width="1.9" fill="none" stroke-linejoin="round" stroke-linecap="round"/>
<path d="M382.80 742.40L383.75 726.03L385.23 689.06L385.70 684.28L386.19 682.56L386.57 681.90L386.97 681.63L387.44 681.70L388.47 682.58L389.86 684.01L390.89 684.60L392.22 685.00L393.40 685.06L394.55 684.75L395.91 683.93L397.99 682.06L401.83 678.27L405.22 675.46L408.68 673.08L412.51 670.92L417.06 668.86L422.32 666.95L427.90 665.34L434.34 663.91L442.23 662.62L452.36 661.40L463.72 660.44L477.50 659.72L502.09 659.04L541.88 658.37L603.28 657.88L670.88 657.38L677.88 657.30" stroke="#f030f0" stroke-width="1.9" fill="none" stroke-linejoin="round" stroke-linecap="round"/>
<path d="M382.60 742.40L382.86 739.62L383.29 725.43L383.86 660.63L384.14 628.44L384.57 617.24L385.31 607.27L385.65 605.51L386.03 604.66L386.40 604.47L386.81 604.66L387.51 605.58L389.81 610.46L390.84 611.91L391.45 612.31L391.98 612.30L392.83 611.84L393.96 610.72L395.56 608.43L401.35 598.15L403.98 594.14L406.22 591.32L408.61 588.91L411.11 586.92L414.02 585.16L417.47 583.56L421.61 582.08L426.05 580.91L431.17 579.98L437.53 579.28L449.11 578.58L463.70 578.13L484.50 577.99L677.90 578.10" stroke="#4242ec" stroke-width="1.9" fill="none" stroke-linejoin="round" stroke-linecap="round"/>
<line x1="399.20" y1="736.50" x2="415.50" y2="736.50" stroke="#2ef02e" stroke-width="1.9"/>
<text x="422.10" y="740.70" class="lg" textLength="27.9" lengthAdjust="spacingAndGlyphs"><tspan stroke="#2b2b2b" stroke-width="0.22">v</tspan>=0%</text>
<line x1="464.30" y1="736.50" x2="480.40" y2="736.50" stroke="#e63838" stroke-width="1.9"/>
<text x="487.00" y="740.70" class="lg" textLength="32.5" lengthAdjust="spacingAndGlyphs"><tspan stroke="#2b2b2b" stroke-width="0.22">v</tspan>=10%</text>
<line x1="534.20" y1="736.50" x2="550.80" y2="736.50" stroke="#f030f0" stroke-width="1.9"/>
<text x="557.40" y="740.70" class="lg" textLength="33.3" lengthAdjust="spacingAndGlyphs"><tspan stroke="#2b2b2b" stroke-width="0.22">v</tspan>=20%</text>
<line x1="604.90" y1="736.50" x2="621.30" y2="736.50" stroke="#4242ec" stroke-width="1.9"/>
<text x="627.90" y="740.70" class="lg" textLength="32.9" lengthAdjust="spacingAndGlyphs"><tspan stroke="#2b2b2b" stroke-width="0.22">v</tspan>=60%</text>
<text x="435.20" y="803.00" class="cap" textLength="157.1" lengthAdjust="spacingAndGlyphs">(f) Vaccinated population</text>
</svg>
</body></html>
